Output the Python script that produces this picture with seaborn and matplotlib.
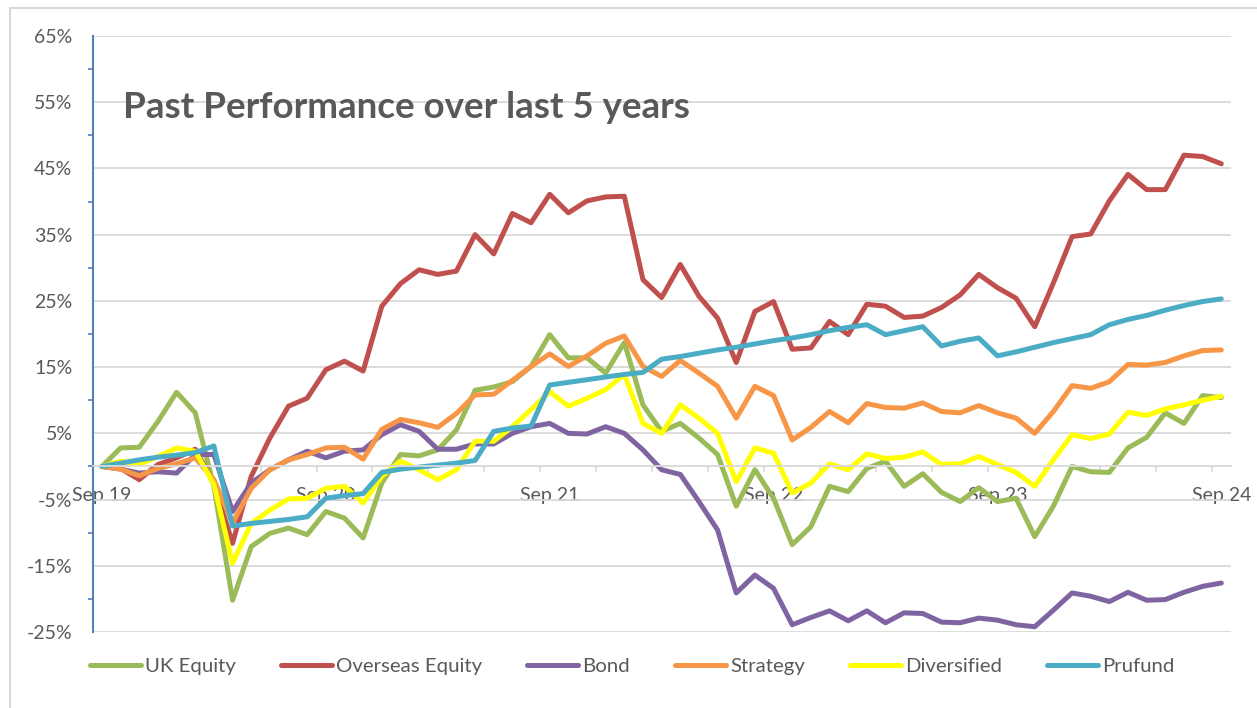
import numpy as np
import pandas as pd
import seaborn as sns
import matplotlib.pyplot as plt
from matplotlib.patches import Rectangle
from matplotlib.ticker import FixedLocator, FuncFormatter

# monthly cumulative returns (%), Sep 2019 - Sep 2024
months = pd.date_range("2019-09-01", periods=61, freq="MS")

uk_equity = [0, 2.8, 2.9, 6.8, 11.2, 8.1, -3.0, -20.2, -12.1, -10.1,
             -9.3, -10.3, -6.8, -7.8, -10.8, -2.5, 1.8, 1.6, 2.5, 5.5,
             11.5, 12.0, 12.8, 15.1, 19.9, 16.4, 16.4, 14.1, 18.7, 9.3,
             5.3, 6.5, 4.3, 1.8, -6.0, -0.5, -4.8, -11.8, -9.1, -3.0,
             -3.8, -0.3, 0.8, -3.0, -1.1, -3.9, -5.3, -3.2, -5.3, -4.8,
             -10.6, -6.0, 0.0, -0.8, -0.9, 2.8, 4.4, 8.1, 6.5, 10.7, 10.4]
overseas_equity = [0, -0.3, -2.0, 0.3, 1.3, 2.6, -2.5, -11.6, -1.5, 4.3,
                   9.1, 10.3, 14.6, 15.9, 14.4, 24.2, 27.6, 29.7, 29.0, 29.5,
                   35.0, 32.1, 38.2, 36.8, 41.1, 38.3, 40.1, 40.7, 40.8, 28.2,
                   25.5, 30.5, 25.7, 22.4, 15.7, 23.4, 24.9, 17.7, 17.9, 21.9,
                   19.9, 24.5, 24.2, 22.5, 22.7, 24.0, 25.9, 29.0, 27.0, 25.4,
                   21.1, 27.7, 34.7, 35.1, 40.1, 44.1, 41.8, 41.8, 47.0, 46.8, 45.7]
bond = [0, -0.4, -1.0, -0.8, -1.0, 1.8, 1.8, -6.8, -2.5, -0.5,
        1.0, 2.3, 1.3, 2.3, 2.5, 4.8, 6.3, 5.3, 2.6, 2.6,
        3.4, 3.4, 5.0, 6.0, 6.5, 5.0, 4.9, 6.0, 5.0, 2.5,
        -0.5, -1.2, -5.3, -9.6, -19.1, -16.4, -18.4, -23.9, -22.8, -21.8,
        -23.3, -21.8, -23.6, -22.1, -22.2, -23.5, -23.6, -22.9, -23.2, -23.9,
        -24.2, -21.7, -19.1, -19.6, -20.4, -19.0, -20.2, -20.1, -19.0, -18.1, -17.6]
strategy = [0, -0.4, -1.4, -0.3, 0.4, 1.3, -2.0, -8.5, -3.3, -0.5,
            1.0, 1.8, 2.8, 2.9, 1.1, 5.6, 7.1, 6.6, 5.9, 8.0,
            10.8, 10.9, 13.0, 15.1, 17.0, 15.1, 16.7, 18.6, 19.7, 15.1,
            13.6, 16.0, 14.1, 12.1, 7.3, 12.1, 10.7, 4.0, 5.9, 8.3,
            6.6, 9.5, 8.9, 8.8, 9.6, 8.3, 8.1, 9.2, 8.1, 7.3,
            5.0, 8.3, 12.2, 11.8, 12.8, 15.4, 15.3, 15.7, 16.7, 17.5, 17.6]
diversified = [0, 0.8, 0.3, 1.5, 2.8, 2.3, -2.7, -14.6, -8.6, -6.6,
               -4.9, -4.8, -3.3, -3.0, -5.5, -1.5, 0.8, -0.5, -2.0, -0.5,
               3.8, 3.8, 6.0, 8.6, 11.3, 9.1, 10.3, 11.6, 13.9, 6.5,
               5.0, 9.3, 7.3, 5.0, -2.3, 2.8, 2.0, -4.0, -2.5, 0.4,
               -0.5, 1.9, 1.2, 1.4, 2.2, 0.3, 0.4, 1.5, 0.3, -0.9,
               -3.0, 1.0, 4.8, 4.2, 4.9, 8.2, 7.7, 8.7, 9.3, 10.0, 10.6]
prufund = [0, 0.5, 1.0, 1.4, 1.7, 2.1, 3.1, -9.0, -8.6, -8.3,
           -8.0, -7.6, -4.8, -4.4, -4.1, -0.9, -0.4, -0.1, 0.2, 0.5,
           0.9, 5.3, 5.8, 6.1, 12.3, 12.7, 13.1, 13.5, 13.9, 14.2,
           16.2, 16.6, 17.1, 17.6, 18.0, 18.5, 19.0, 19.4, 19.9, 20.5,
           21.0, 21.4, 19.9, 20.5, 21.1, 18.2, 18.9, 19.4, 16.7, 17.3,
           18.0, 18.7, 19.3, 19.9, 21.4, 22.2, 22.8, 23.6, 24.3, 24.9, 25.3]

series_names = ["UK Equity", "Overseas Equity", "Bond", "Strategy", "Diversified", "Prufund"]
series_values = [uk_equity, overseas_equity, bond, strategy, diversified, prufund]
series_colors = ["#9BBB59", "#C0504D", "#8064A2", "#F79646", "#FFFF00", "#4BACC6"]

# long-form table for seaborn
rows = []
for name, vals in zip(series_names, series_values):
    for i, (m, v) in enumerate(zip(months, vals)):
        rows.append({"pos": i, "month": m, "series": name, "value": v})
df = pd.DataFrame(rows)

sns.set_style("white")
plt.rcParams["font.family"] = ["Lato", "DejaVu Sans"]
text_col = "#595959"
grid_col = "#D9D9D9"
axis_blue = "#4F81BD"

fig = plt.figure(figsize=(12.57, 7.08), dpi=100)
ax = fig.add_axes([0.0737, 0.1073, 0.9053, 0.8419])

sns.lineplot(data=df, x="pos", y="value", hue="series", hue_order=series_names,
             palette=dict(zip(series_names, series_colors)), linewidth=3.6,
             sort=False, ax=ax, legend=True)
for ln in ax.lines:
    ln.set_solid_joinstyle("round")
    ln.set_solid_capstyle("round")

handles, labels = ax.get_legend_handles_labels()
ax.get_legend().remove()

ax.set_xlim(-0.5, 60.5)
ax.set_ylim(-25, 65)

# y axis
ax.set_yticks(np.arange(-25, 66, 10))
ax.yaxis.set_minor_locator(FixedLocator(np.arange(-20, 61, 10)))
ax.yaxis.set_major_formatter(FuncFormatter(lambda v, p: f"{v:.0f}%"))
ax.tick_params(axis="y", which="major", length=4.5, width=1.2, color=axis_blue,
               pad=10, labelsize=14, labelcolor=text_col, direction="out")
ax.tick_params(axis="y", which="minor", length=3.5, width=1.2, color=axis_blue,
               direction="out", left=True)
ax.grid(axis="y", which="major", color=grid_col, linewidth=1.3)
ax.grid(axis="x", visible=False)
ax.set_axisbelow(True)

# x axis crossing at 0, labels yearly, ticks quarterly
major_pos = list(range(0, 61, 12))
ax.set_xticks(major_pos)
ax.set_xticklabels([months[i].strftime("%b %y") for i in major_pos])
ax.xaxis.set_minor_locator(FixedLocator(np.arange(-0.5, 60, 3)))
ax.tick_params(axis="x", which="major", length=0, pad=15, labelsize=14, labelcolor=text_col)
ax.tick_params(axis="x", which="minor", length=4.5, width=1.2, color=grid_col,
               direction="out", bottom=True)

for s in ["top", "right"]:
    ax.spines[s].set_visible(False)
ax.spines["bottom"].set_position(("data", 0))
ax.spines["bottom"].set_color(grid_col)
ax.spines["bottom"].set_linewidth(1.3)
ax.spines["left"].set_color(axis_blue)
ax.spines["left"].set_linewidth(1.5)
ax.set_xlabel("")
ax.set_ylabel("")

fig.text(123 / 1257, 1 - 118 / 708, "Past Performance over last 5 years",
         fontsize=26.5, fontweight="bold", color=text_col, ha="left", va="baseline")

fig.legend(handles, labels, loc="center left", bbox_to_anchor=(90 / 1257, 1 - 666 / 708),
           ncol=6, frameon=False, handlelength=2.5, handletextpad=0.2,
           columnspacing=2.2, borderaxespad=0, borderpad=0,
           prop={"size": 14.7}, labelcolor=text_col)

# chart area border
fig.patches.append(Rectangle((10 / 1257, -0.05), 1.1, 1.05 - 8 / 708, fill=False,
                             edgecolor=grid_col, linewidth=1.5, transform=fig.transFigure))

fig.savefig("out.png", dpi=100)
